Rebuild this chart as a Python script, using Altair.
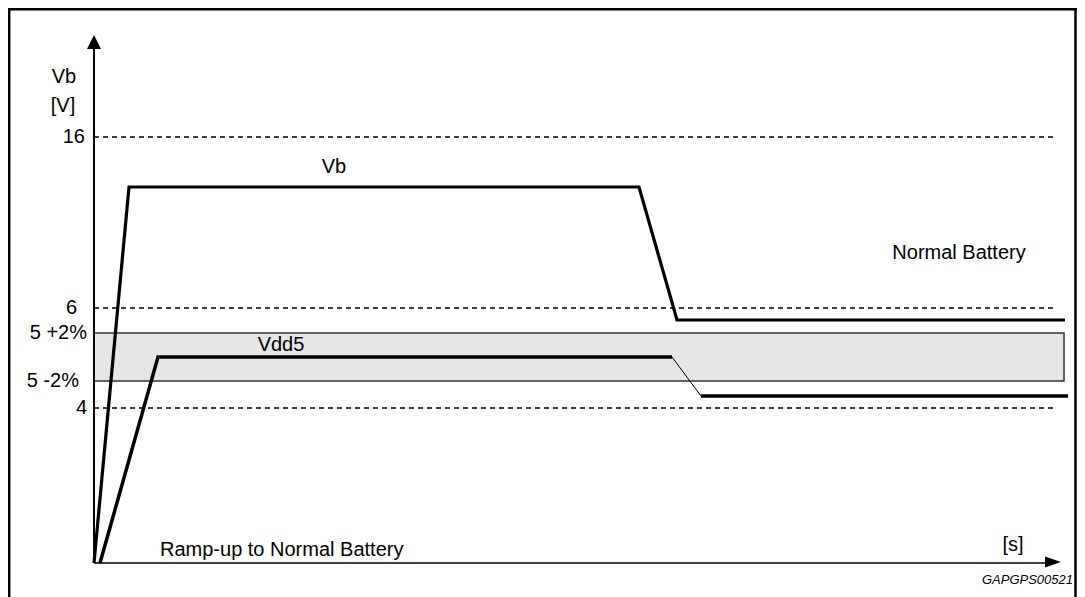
import altair as alt
import pandas as pd

# ---- data (schematic units: time t, level v) ----
vb_t = [0.0, 3.5, 54.5, 58.3, 97.1]
vb_v = [0.0, 37.6, 37.6, 24.3, 24.3]

vdd_t = [0.6, 6.4, 57.8, 60.7, 97.4]
vdd_v = [0.0, 20.6, 20.6, 16.7, 16.7]
vdd_seg = ["a", "a", "a", "b", "c"]  # segment groups (b = thin transition)

tick_labels = ["16", "6", "5 +2%", "5 -2%", "4"]
tick_levels = [42.6, 25.5, 23.0, 18.2, 15.5]

dashed_levels = [42.6, 25.5, 15.5]
band_low, band_high = 18.2, 23.0

W, H = 1069, 589
FONT = "Liberation Sans"

xs = alt.Scale(domain=[-8.6, 98.3], nice=False, zero=False)
ys = alt.Scale(domain=[-3.4, 55.5], nice=False, zero=False)
X = lambda f, **k: alt.X(f, scale=xs, axis=None, **k)
Y = lambda f, **k: alt.Y(f, scale=ys, axis=None, **k)

vb_df = pd.DataFrame({"t": vb_t, "v": vb_v})

# Vdd5 split into groups so the transition can be thin
rows = []
for i in range(len(vdd_t)):
    rows.append({"t": vdd_t[i], "v": vdd_v[i], "g": vdd_seg[i]})
rows.insert(3, {"t": vdd_t[2], "v": vdd_v[2], "g": "b"})
rows.insert(5, {"t": vdd_t[3], "v": vdd_v[3], "g": "c"})
vdd_df = pd.DataFrame(rows)
vdd_df["w"] = vdd_df["g"].map({"a": 3.5, "b": 1.0, "c": 3.5})

base = alt.Chart(pd.DataFrame({"dummy": [0]}))

layers = []

# band
band = base.mark_rect(fill="#e6e6e6", stroke="#333333", strokeWidth=1.5).encode(
    x=X("x:Q"), x2="x2:Q", y=Y("y:Q"), y2="y2:Q"
).transform_calculate(x="0", x2="97.0", y=str(band_low), y2=str(band_high))
layers.append(band)

# dashed reference lines
dash_df = pd.DataFrame({"v": dashed_levels})
dashes = alt.Chart(dash_df).mark_rule(color="black", strokeWidth=1.3, strokeDash=[5, 4]).encode(
    x=X("x:Q"), x2="x2:Q", y=Y("v:Q")
).transform_calculate(x="0", x2="95.9")
layers.append(dashes)

# Vb line
vb_line = alt.Chart(vb_df).mark_line(color="black", strokeWidth=3.2, strokeJoin="miter").encode(
    x=X("t:Q"), y=Y("v:Q"), order="t:Q"
)
layers.append(vb_line)

# Vdd5 line
vdd_line = alt.Chart(vdd_df).mark_line(color="black", strokeJoin="miter").encode(
    x=X("t:Q"), y=Y("v:Q"), detail="g:N", order="t:Q",
    strokeWidth=alt.StrokeWidth("w:Q", scale=None, legend=None)
)
layers.append(vdd_line)

# axes lines
yaxis = base.mark_rule(color="black", strokeWidth=2).encode(
    x=X("x:Q"), y=Y("y:Q"), y2="y2:Q"
).transform_calculate(x="0", y="0", y2="51.6")
xaxis = base.mark_rule(color="black", strokeWidth=1.5).encode(
    x=X("x:Q"), x2="x2:Q", y=Y("y:Q")
).transform_calculate(x="0", x2="95.4", y="0")
layers += [yaxis, xaxis]

# arrow heads
up = base.mark_point(shape="M0,-1L1,1L-1,1Z", size=196, filled=True, fill="black", stroke=None, opacity=1).encode(
    x=X("x:Q"), y=Y("y:Q")
).transform_calculate(x="0", y="52.1")
right = base.mark_point(shape="M1,0L-1,-0.7L-1,0.7Z", size=256, filled=True, fill="black", stroke=None, opacity=1).encode(
    x=X("x:Q"), y=Y("y:Q")
).transform_calculate(x="95.9", y="0.1")
layers += [up, right]

# frame
frame_left = base.mark_rule(color="black", strokeWidth=2.5).encode(
    x=alt.value(1.2), y=alt.value(0), y2=alt.value(H))
frame_top = base.mark_rule(color="black", strokeWidth=2.5).encode(
    x=alt.value(0), x2=alt.value(W), y=alt.value(1.2))
frame_right = base.mark_rule(color="black", strokeWidth=2.5).encode(
    x=alt.value(W - 1.5), y=alt.value(0), y2=alt.value(H))
layers += [frame_left, frame_top, frame_right]


def label(text, t, v, size=20, align="center", italic=False):
    return base.mark_text(text=text, font=FONT, fontSize=size, align=align, baseline="middle",
                          color="black", fontStyle="italic" if italic else "normal").encode(
        x=X("x:Q"), y=Y("y:Q")
    ).transform_calculate(x=str(t), y=str(v))


# tick labels
tick_x = {"16": -0.9, "6": -1.7, "5 +2%": -0.7, "5 -2%": -1.5, "4": -0.7}
for lab, lev in zip(tick_labels, tick_levels):
    layers.append(label(lab, tick_x[lab], lev, align="right"))

layers += [
    label("Vb", -3.0, 48.6),
    label("[V]", -3.1, 45.7),
    label("Vb", 24.0, 39.6),
    label("Vdd5", 18.7, 21.8),
    label("Normal Battery", 86.5, 31.0),
    label("Ramp-up to Normal Battery", 6.6, 1.3, align="left"),
    label("[s]", 91.9, 1.8),
    label("GAPGPS00521", 97.9, -1.7, size=13, align="right", italic=True),
]

chart = alt.layer(*layers).properties(
    width=W, height=H, autosize=alt.AutoSizeParams(type="none"), padding=0
).configure_view(stroke=None)

chart.save("out.html", embed_options={"renderer": "svg", "actions": False})
